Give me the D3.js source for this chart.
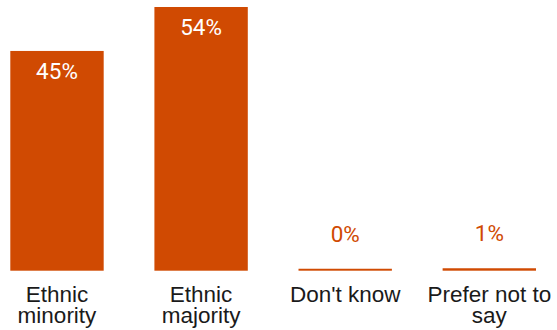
<!DOCTYPE html>
<html lang="en">
<head>
    <meta charset="UTF-8">
    <title>Ethnicity bar chart</title>
    <script src="https://d3js.org/d3.v7.min.js"></script>
    <style>
        body {
            margin: 0;
            background: #fff;
        }
        .value-label {
            font-family: Roboto, "Liberation Sans", Arial, sans-serif;
            font-size: 22.5px;
            text-anchor: middle;
        }
        .cat-label {
            font-family: "Liberation Sans", Arial, sans-serif;
            font-size: 22.5px;
            fill: #1a1a1a;
            text-anchor: middle;
        }
    </style>
</head>
<body>
    <div id="chart"></div>
    <script>
        // Data
        const categories = ["Ethnic minority", "Ethnic majority", "Don't know", "Prefer not to say"];
        const values = [45, 54, 0.4, 0.5];
        const valueLabels = ["45%", "54%", "0%", "1%"];

        const width = 557;
        const height = 330;
        const barColor = "#d04a02";

        const svg = d3.select("#chart")
            .append("svg")
            .attr("width", width)
            .attr("height", height);

        const x = d3.scaleBand()
            .domain(categories)
            .range([0, 546.3])
            .paddingInner(0.352)
            .paddingOuter(0.0715);

        const y = d3.scaleLinear()
            .domain([0, 54])
            .range([270.7, 7]);

        const data = categories.map((c, i) => ({ cat: c, value: values[i], label: valueLabels[i] }));

        // Bars
        svg.append("g")
            .selectAll("rect")
            .data(data)
            .enter()
            .append("rect")
            .attr("x", d => x(d.cat))
            .attr("y", d => y(d.value))
            .attr("width", x.bandwidth())
            .attr("height", d => y(0) - y(d.value))
            .attr("fill", barColor);

        // Value labels: inside (white) for tall bars, above (orange) for tiny ones
        const isInside = d => y(0) - y(d.value) > 40;

        svg.append("g")
            .selectAll("text")
            .data(data)
            .enter()
            .append("text")
            .attr("class", "value-label")
            .attr("x", d => x(d.cat) + x.bandwidth() / 2)
            .attr("y", d => isInside(d) ? y(d.value) + 27.8 : y(d.value) - 27)
            .attr("fill", d => isInside(d) ? "#fff" : barColor)
            .attr("stroke", d => isInside(d) ? "none" : "#fff")
            .attr("stroke-width", 2)
            .attr("paint-order", "stroke")
            .text(d => d.label);

        // Category labels, wrapped to fit
        function wrap(text, maxWidth) {
            text.each(function() {
                const t = d3.select(this);
                const words = t.text().split(/\s+/);
                const cx = t.attr("x");
                const y0 = +t.attr("y");
                t.text(null);
                let line = [];
                let lineNo = 0;
                let tspan = t.append("tspan").attr("x", cx).attr("y", y0);
                words.forEach(w => {
                    line.push(w);
                    tspan.text(line.join(" "));
                    if (tspan.node().getComputedTextLength() > maxWidth && line.length > 1) {
                        line.pop();
                        tspan.text(line.join(" "));
                        line = [w];
                        lineNo++;
                        tspan = t.append("tspan")
                            .attr("x", cx)
                            .attr("y", y0 + lineNo * 21.6)
                            .text(w);
                    }
                });
            });
        }

        svg.append("g")
            .selectAll("text")
            .data(categories)
            .enter()
            .append("text")
            .attr("class", "cat-label")
            .attr("x", d => x(d) + x.bandwidth() / 2)
            .attr("y", 301.7)
            .text(d => d)
            .call(wrap, 138);
    </script>
</body>
</html>
